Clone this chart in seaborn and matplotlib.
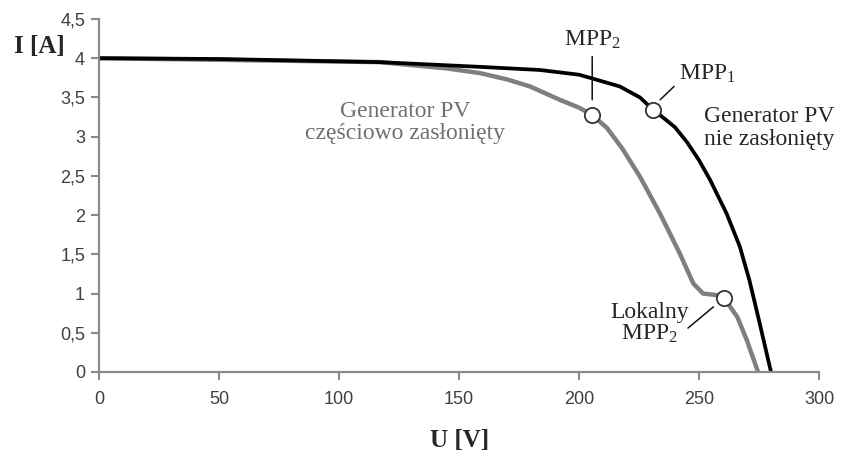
import numpy as np
import pandas as pd
import seaborn as sns
import matplotlib
matplotlib.use("Agg")
import matplotlib.pyplot as plt

# curve: not shaded generator
u_full = [0, 50, 117, 158.75, 183.75, 200, 204.6, 217, 225.4, 231, 236, 240, 245, 250, 254.6, 261.5, 267, 271, 274.6, 280]
i_full = [4.0, 3.99, 3.95, 3.89, 3.85, 3.79, 3.75, 3.64, 3.50, 3.34, 3.22, 3.12, 2.93, 2.70, 2.45, 2.02, 1.60, 1.17, 0.71, 0.0]

# partially shaded generator
u_part = [0, 50, 117, 145, 158.75, 170, 179.6, 192, 200, 205.4, 211.7, 218, 225.4, 233.75, 242, 247.6, 251.7, 257.4, 260.5, 266, 270, 274.6]
i_part = [4.0, 3.98, 3.95, 3.87, 3.81, 3.73, 3.64, 3.47, 3.37, 3.28, 3.11, 2.85, 2.49, 2.02, 1.51, 1.13, 1.0, 0.98, 0.94, 0.70, 0.40, 0.0]

mpp_u = [231, 205.4, 260.5]
mpp_i = [3.34, 3.28, 0.94]

xticks = [0, 50, 100, 150, 200, 250, 300]
yticks = [0, 0.5, 1, 1.5, 2, 2.5, 3, 3.5, 4, 4.5]
ytick_labels = ["0", "0,5", "1", "1,5", "2", "2,5", "3", "3,5", "4", "4,5"]

sns.set_style("white")
plt.rcParams["font.family"] = ["Liberation Sans", "DejaVu Sans"]
plt.rcParams["mathtext.fontset"] = "custom"
plt.rcParams["mathtext.rm"] = "Liberation Serif"
plt.rcParams["mathtext.it"] = "Liberation Serif:italic"
plt.rcParams["mathtext.bf"] = "Liberation Serif:bold"

fig = plt.figure(figsize=(8.45, 4.53), dpi=100)
ax = fig.add_axes([99 / 845, 81 / 453, 720 / 845, 353 / 453])

df_full = pd.DataFrame({"U": u_full, "I": i_full})
df_part = pd.DataFrame({"U": u_part, "I": i_part})
sns.lineplot(data=df_part, x="U", y="I", sort=False, color="#7f7f7f", lw=3.2, ax=ax)
sns.lineplot(data=df_full, x="U", y="I", sort=False, color="black", lw=2.7, ax=ax)
ax.plot(mpp_u, mpp_i, "o", ms=11, mfc="white", mec="#333333", mew=1.3, zorder=5)

ax.set_xlim(0, 300)
ax.set_ylim(0, 4.5)
ax.set_xticks(xticks)
ax.set_yticks(yticks)
ax.set_yticklabels(ytick_labels)
ax.set_xlabel("")
ax.set_ylabel("")
for s in ["top", "right"]:
    ax.spines[s].set_visible(False)
for s in ["left", "bottom"]:
    ax.spines[s].set_color("#8a8a8a")
    ax.spines[s].set_linewidth(1.6)
ax.tick_params(axis="both", direction="out", length=6, width=1.5, color="#8a8a8a",
               labelsize=13, labelcolor="#404040", left=True, bottom=True)
ax.tick_params(axis="x", pad=8)
ax.tick_params(axis="y", pad=4)

serif = ["Liberation Serif", "DejaVu Serif"]
fig.text(39 / 845, 1 - 46 / 453, "I [A]", family=serif, weight="bold", fontsize=18,
         ha="center", va="center")
fig.text(460 / 845, 1 - 441 / 453, "U [V]", family=serif, weight="bold", fontsize=18,
         ha="center", va="center")

# leader lines
line = dict(arrowstyle="-", color="#111111", lw=1.1, shrinkA=0, shrinkB=0)
ax.annotate("", xy=(205.5, 3.47), xytext=(205.5, 4.02), arrowprops=line, annotation_clip=False)
ax.annotate("", xy=(233.8, 3.47), xytext=(239.6, 3.64), arrowprops=line)
ax.annotate("", xy=(256, 0.83), xytext=(245.4, 0.56), arrowprops=line)

ax.text(205.4, 4.23, "MPP$_2$", family=serif, fontsize=17, ha="center", va="center", clip_on=False)
ax.text(253.3, 3.80, "MPP$_1$", family=serif, fontsize=17, ha="center", va="center")
ax.text(229.5, 0.62, "Lokalny\nMPP$_2$", family=serif, fontsize=17, ha="center", va="center",
        linespacing=1.0)
ax.text(252, 3.11, "Generator PV\nnie zasłonięty", family=serif, fontsize=17,
        ha="left", va="center", linespacing=1.1, clip_on=False)
ax.text(127.5, 3.18, "Generator PV\nczęściowo zasłonięty", family=serif, fontsize=17,
        color="#707070", ha="center", va="center", linespacing=1.1)

fig.savefig("out.png", dpi=100)
